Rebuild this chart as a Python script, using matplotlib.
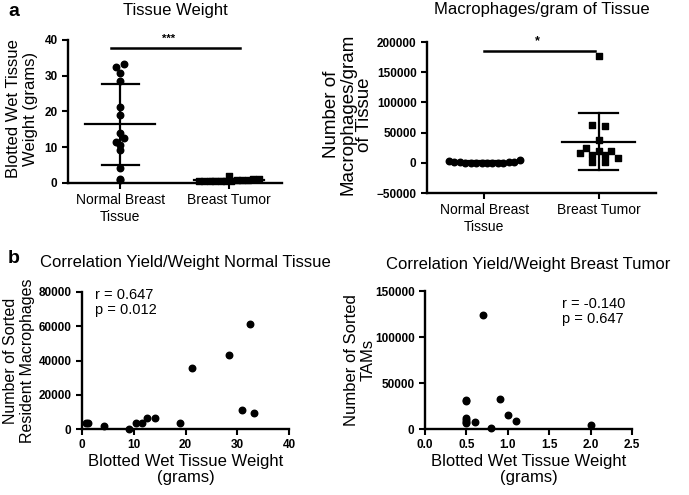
import numpy as np
import matplotlib
matplotlib.use("Agg")
import matplotlib.pyplot as plt

plt.rcParams['font.family'] = ['Liberation Sans', 'DejaVu Sans']

# values
categories = ['Normal Breast\nTissue', 'Breast Tumor']
normal_weight = [0.7, 1.1, 4.2, 9.1, 10.5, 11.6, 12.6, 14.1, 19.0, 21.3, 28.4, 30.9, 32.4, 33.3]
normal_yield = [3300, 3300, 1700, 200, 3300, 3300, 6400, 6200, 3300, 35400, 43100, 11100, 61600, 9100]
tumor_weight = [2.0, 0.5, 0.5, 0.5, 0.5, 0.5, 0.5, 0.6, 0.7, 0.8, 0.9, 1.0, 1.1]
tumor_yield = [4000, 31000, 30000, 12000, 9500, 7500, 6000, 8000, 124000, 1400, 33000, 15600, 9000]
normal_per_gram = [3000, 1500, 600, 300, 200, 100, 50, 20, 170, 280, 400, 510, 1900, 4700]
tumor_per_gram = [177000, 62900, 60700, 37500, 24800, 19300, 19300, 15600, 13200, 12700, 8300, 1700, 1100]

W, H = 689, 495
fig = plt.figure(figsize=(W / 100, H / 100), dpi=100)


def box(l, r, t, b):
    return [l / W, 1 - b / H, (r - l) / W, (b - t) / H]


def style(ax):
    for s in ['top', 'right']:
        ax.spines[s].set_visible(False)
    for s in ['left', 'bottom']:
        ax.spines[s].set_linewidth(1.7)
    ax.tick_params(width=1.5, length=4, labelsize=8.5)
    for lab in ax.get_xticklabels() + ax.get_yticklabels():
        lab.set_fontweight('bold')


def swarm(values, bin_h, step):
    values = np.asarray(values, float)
    rows = np.round(values / bin_h)
    off = np.zeros(len(values))
    for r in np.unique(rows):
        idx = np.where(rows == r)[0]
        off[idx] = (np.arange(len(idx)) - (len(idx) - 1) / 2) * step
    return off


def group(ax, pos, vals, marker, bin_h, step):
    vals = np.asarray(vals, float)
    x = pos + swarm(vals, bin_h, step)
    ax.scatter(x, vals, s=22, marker=marker, color='black', zorder=3, clip_on=False)
    m, sd = vals.mean(), vals.std(ddof=1)
    ax.plot([pos - 0.32, pos + 0.32], [m, m], color='black', lw=1.6, zorder=2)
    ax.plot([pos, pos], [m - sd, m + sd], color='black', lw=1.6, zorder=2)
    for v in (m - sd, m + sd):
        ax.plot([pos - 0.17, pos + 0.17], [v, v], color='black', lw=1.6, zorder=2)


# panel a, left
ax1 = fig.add_axes(box(68, 282, 40, 183))
group(ax1, 0, normal_weight, 'o', 1.5, 0.08)
group(ax1, 1, tumor_weight, 's', 3.0, 0.05)
ax1.plot([-0.08, 1.1], [37.7, 37.7], color='black', lw=1.8, clip_on=False)
ax1.text(0.45, 39.0, '***', ha='center', va='bottom', fontsize=8, fontweight='bold')
ax1.set_xlim(-0.48, 1.49)
ax1.set_ylim(0, 40)
ax1.set_yticks([0, 10, 20, 30, 40])
ax1.set_xticks([0, 1])
ax1.set_xticklabels(categories)
ax1.set_title('Tissue Weight', fontsize=12, pad=18)
ax1.set_ylabel('Blotted Wet Tissue\nWeight (grams)', fontsize=12, linespacing=1.15)
ax1.yaxis.set_label_coords(-0.14, 0.52)
style(ax1)
for lab in ax1.get_xticklabels():
    lab.set_fontweight('normal')
    lab.set_fontsize(10)

# panel a, right
ax2 = fig.add_axes(box(427, 656, 42, 193))
group(ax2, 0, normal_per_gram, 'o', 10000, 0.048)
group(ax2, 1, tumor_per_gram, 's', 12000, 0.11)
ax2.plot([0.0, 0.965], [185000, 185000], color='black', lw=1.8, clip_on=False)
ax2.text(0.46, 192000, '*', ha='center', va='bottom', fontsize=9, fontweight='bold')
ax2.set_xlim(-0.5, 1.5)
ax2.set_ylim(-50000, 200000)
ax2.set_yticks(np.arange(-50000, 200001, 50000))
ax2.set_xticks([0, 1])
ax2.set_xticklabels(categories)
ax2.set_title('Macrophages/gram of Tissue', fontsize=12, pad=20)
ax2.set_ylabel('Number of\nMacrophages/gram\nof Tissue', fontsize=13.5, linespacing=0.95)
ax2.yaxis.set_label_coords(-0.236, 0.52)
style(ax2)
for lab in ax2.get_xticklabels():
    lab.set_fontweight('normal')
    lab.set_fontsize(10)

# panel b, left
ax3 = fig.add_axes(box(82, 289, 292, 429))
ax3.scatter(normal_weight, normal_yield, s=22, color='black', zorder=3, clip_on=False)
ax3.set_xlim(0, 40)
ax3.set_ylim(0, 80000)
ax3.set_xticks([0, 10, 20, 30, 40])
ax3.set_yticks(np.arange(0, 80001, 20000))
ax3.text(2.6, 82500, 'r = 0.647\np = 0.012', fontsize=10.5, va='top', linespacing=1.1)
ax3.set_title('Correlation Yield/Weight Normal Tissue', fontsize=12, pad=18)
ax3.set_xlabel('Blotted Wet Tissue Weight\n(grams)', fontsize=12, labelpad=2, linespacing=1.1)
ax3.set_ylabel('Number of Sorted\nResident Macrophages', fontsize=11.5, linespacing=1.15)
ax3.yaxis.set_label_coords(-0.227, 0.5)
style(ax3)

# panel b, right
ax4 = fig.add_axes(box(425, 632, 291, 429))
ax4.scatter(tumor_weight, tumor_yield, s=22, color='black', zorder=3, clip_on=False)
ax4.set_xlim(0, 2.5)
ax4.set_ylim(0, 150000)
ax4.set_xticks(np.arange(0, 2.51, 0.5))
ax4.set_xticklabels([f'{v:.1f}' for v in np.arange(0, 2.51, 0.5)])
ax4.set_yticks(np.arange(0, 150001, 50000))
ax4.text(1.65, 144000, 'r = -0.140\np = 0.647', fontsize=10.5, va='top', linespacing=1.1)
ax4.set_title('Correlation Yield/Weight Breast Tumor', fontsize=12, pad=16)
ax4.set_xlabel('Blotted Wet Tissue Weight\n(grams)', fontsize=12, labelpad=2, linespacing=1.1)
ax4.set_ylabel('Number of Sorted\nTAMs', fontsize=12, linespacing=1.15)
ax4.yaxis.set_label_coords(-0.24, 0.5)
style(ax4)

fig.text(8 / W, 1 - 3 / H, 'a', fontsize=14, fontweight='bold', va='top')
fig.text(8 / W, 1 - 250 / H, 'b', fontsize=14, fontweight='bold', va='top')

fig.savefig('out.png', dpi=100)
